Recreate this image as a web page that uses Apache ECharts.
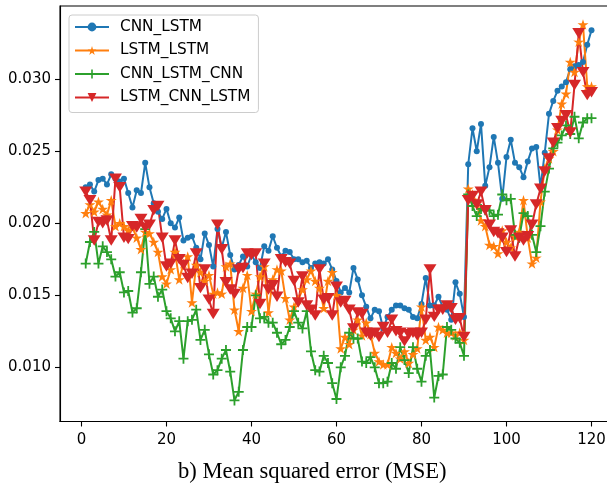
<!DOCTYPE html>
<html>
<head>
<meta charset="utf-8">
<script src="https://cdn.jsdelivr.net/npm/echarts@6/dist/echarts.min.js"></script>
<style>
  html, body { margin: 0; padding: 0; background: #ffffff; }
  #chart { width: 607px; height: 487px; }
</style>
</head>
<body>
<div id="chart"></div>
<script>
// Per-epoch MSE for each architecture (epochs 1..120)
const cnnLstm = [
  0.0225, 0.0227, 0.0222, 0.0230, 0.0231, 0.0227, 0.0234, 0.0231, 0.0229, 0.0231,
  0.0221, 0.0211, 0.0223, 0.0221, 0.0242, 0.0225, 0.0214, 0.0208, 0.0203, 0.0210,
  0.0200, 0.0197, 0.0204, 0.0188, 0.0190, 0.0191, 0.0183, 0.0175, 0.0193, 0.0185,
  0.0170, 0.0196, 0.0183, 0.0194, 0.0178, 0.0168, 0.0171, 0.0177, 0.0170, 0.0178,
  0.0173, 0.0169, 0.0184, 0.0181, 0.0191, 0.0183, 0.0177, 0.0181, 0.0180, 0.0175,
  0.0175, 0.0173, 0.0174, 0.0169, 0.0172, 0.0173, 0.0172, 0.0175, 0.0168, 0.0160,
  0.0152, 0.0155, 0.0152, 0.0169, 0.0161, 0.0150, 0.0142, 0.0134, 0.0140, 0.0139,
  0.0127, 0.0135, 0.0140, 0.0143, 0.0143, 0.0141, 0.0140, 0.0135, 0.0134, 0.0144,
  0.0162, 0.0143, 0.0143, 0.0149, 0.0142, 0.0140, 0.0133, 0.0159, 0.0151, 0.0135,
  0.0241, 0.0266, 0.0250, 0.0269, 0.0226, 0.0239, 0.0260, 0.0242, 0.0217, 0.0246,
  0.0258, 0.0242, 0.0239, 0.0232, 0.0243, 0.0252, 0.0253, 0.0225, 0.0249, 0.0276,
  0.0285, 0.0292, 0.0295, 0.0298, 0.0307, 0.0309, 0.0310, 0.0312, 0.0324, 0.0334
];
const lstmLstm = [
  0.0207, 0.0213, 0.0208, 0.0215, 0.0210, 0.0206, 0.0216, 0.0198, 0.0200, 0.0198,
  0.0195, 0.0197, 0.0190, 0.0182, 0.0194, 0.0193, 0.0187, 0.0180, 0.0163, 0.0158,
  0.0168, 0.0180, 0.0161, 0.0172, 0.0177, 0.0145, 0.0171, 0.0166, 0.0160, 0.0164,
  0.0151, 0.0152, 0.0151, 0.0170, 0.0172, 0.0140, 0.0125, 0.0155, 0.0164, 0.0139,
  0.0151, 0.0163, 0.0170, 0.0138, 0.0161, 0.0168, 0.0167, 0.0148, 0.0133, 0.0142,
  0.0147, 0.0154, 0.0161, 0.0167, 0.0160, 0.0155, 0.0141, 0.0160, 0.0166, 0.0150,
  0.0113, 0.0121, 0.0116, 0.0126, 0.0133, 0.0122, 0.0131, 0.0123, 0.0110, 0.0104,
  0.0102, 0.0102, 0.0114, 0.0110, 0.0106, 0.0111, 0.0103, 0.0109, 0.0113, 0.0142,
  0.0119, 0.0121, 0.0114, 0.0128, 0.0126, 0.0124, 0.0124, 0.0122, 0.0124, 0.0119,
  0.0224, 0.0220, 0.0214, 0.0202, 0.0198, 0.0185, 0.0184, 0.0179, 0.0195, 0.0187,
  0.0183, 0.0191, 0.0194, 0.0216, 0.0190, 0.0172, 0.0176, 0.0215, 0.0238, 0.0245,
  0.0250, 0.0265, 0.0283, 0.0290, 0.0312, 0.0305, 0.0326, 0.0338, 0.0295, 0.0295
];
const cnnLstmCnn = [
  0.0172, 0.0187, 0.0194, 0.0172, 0.0184, 0.0180, 0.0175, 0.0163, 0.0166, 0.0152,
  0.0153, 0.0138, 0.0141, 0.0166, 0.0196, 0.0158, 0.0163, 0.0149, 0.0154, 0.0139,
  0.0134, 0.0125, 0.0132, 0.0106, 0.0132, 0.0133, 0.0140, 0.0119, 0.0126, 0.0109,
  0.0095, 0.0098, 0.0106, 0.0112, 0.0097, 0.0077, 0.0083, 0.0112, 0.0128, 0.0128,
  0.0150, 0.0134, 0.0135, 0.0131, 0.0131, 0.0124, 0.0116, 0.0119, 0.0128, 0.0139,
  0.0131, 0.0127, 0.0139, 0.0111, 0.0098, 0.0097, 0.0108, 0.0103, 0.0089, 0.0078,
  0.0100, 0.0108, 0.0124, 0.0120, 0.0120, 0.0104, 0.0103, 0.0107, 0.0100, 0.0089,
  0.0089, 0.0090, 0.0103, 0.0099, 0.0114, 0.0105, 0.0096, 0.0114, 0.0099, 0.0090,
  0.0108, 0.0112, 0.0079, 0.0094, 0.0095, 0.0128, 0.0126, 0.0120, 0.0117, 0.0108,
  0.0220, 0.0212, 0.0205, 0.0210, 0.0209, 0.0209, 0.0205, 0.0206, 0.0220, 0.0216,
  0.0217, 0.0192, 0.0190, 0.0207, 0.0205, 0.0192, 0.0180, 0.0198, 0.0222, 0.0238,
  0.0252, 0.0256, 0.0261, 0.0268, 0.0262, 0.0274, 0.0259, 0.0270, 0.0273, 0.0273
];
const lstmCnnLstm = [
  0.0222, 0.0216, 0.0188, 0.0201, 0.0200, 0.0202, 0.0188, 0.0231, 0.0225, 0.0190,
  0.0189, 0.0198, 0.0197, 0.0203, 0.0197, 0.0199, 0.0209, 0.0212, 0.0190, 0.0170,
  0.0172, 0.0188, 0.0175, 0.0171, 0.0162, 0.0165, 0.0179, 0.0155, 0.0168, 0.0147,
  0.0137, 0.0199, 0.0182, 0.0159, 0.0154, 0.0151, 0.0168, 0.0169, 0.0179, 0.0178,
  0.0179, 0.0144, 0.0172, 0.0154, 0.0157, 0.0149, 0.0175, 0.0173, 0.0172, 0.0160,
  0.0145, 0.0163, 0.0143, 0.0140, 0.0136, 0.0168, 0.0147, 0.0148, 0.0136, 0.0156,
  0.0145, 0.0146, 0.0140, 0.0127, 0.0138, 0.0137, 0.0124, 0.0122, 0.0124, 0.0121,
  0.0128, 0.0124, 0.0133, 0.0125, 0.0124, 0.0118, 0.0123, 0.0124, 0.0122, 0.0124,
  0.0133, 0.0168, 0.0135, 0.0140, 0.0140, 0.0143, 0.0141, 0.0133, 0.0134, 0.0121,
  0.0216, 0.0219, 0.0213, 0.0222, 0.0209, 0.0199, 0.0194, 0.0193, 0.0190, 0.0180,
  0.0195, 0.0177, 0.0190, 0.0188, 0.0191, 0.0199, 0.0213, 0.0224, 0.0236, 0.0245,
  0.0256, 0.0266, 0.0271, 0.0275, 0.0263, 0.0296, 0.0332, 0.0305, 0.0289, 0.0291
];

const seriesNames = ['CNN_LSTM', 'LSTM_LSTM', 'CNN_LSTM_CNN', 'LSTM_CNN_LSTM'];
const xTicks = [0, 20, 40, 60, 80, 100, 120];
const yTicks = [0.010, 0.015, 0.020, 0.025, 0.030];
const xLabel = 'b) Mean squared error (MSE)';

const SANS = 'DejaVu Sans';
const STAR = 'path://M50 0 L61.17 34.63 L97.55 34.55 L68.07 55.87 L79.39 90.45 L50 69 L20.61 90.45 L31.93 55.87 L2.45 34.55 L38.83 34.63 Z';
const PLUS = 'path://M41 0 H59 V41 H100 V59 H59 V100 H41 V59 H0 V41 H41 Z';
const TRI_DOWN = 'path://M0 0 L100 0 L50 87 Z';

function pairs(vals) {
  return vals.map((v, i) => [i + 1, v]);
}

function lineSeries(name, vals, color, symbol, size) {
  return {
    type: 'line',
    name: name,
    data: pairs(vals),
    symbol: symbol,
    symbolSize: size,
    symbolKeepAspect: true,
    showSymbol: true,
    lineStyle: { color: color, width: 2 },
    itemStyle: { color: color, borderWidth: 0 },
    emphasis: { disabled: true },
    silent: true
  };
}

const chart = echarts.init(document.getElementById('chart'), null, { renderer: 'canvas' });
chart.setOption({
  animation: false,
  backgroundColor: '#ffffff',
  title: {
    text: xLabel,
    left: 178,
    top: 461,
    padding: 0,
    textStyle: { fontFamily: 'Liberation Serif', fontSize: 22.6, fontWeight: 'normal', color: '#000000' }
  },
  grid: {
    left: 60, top: 6, width: 557, height: 415.5,
    show: true, borderColor: '#000000', borderWidth: 1.1,
    backgroundColor: 'transparent',
    containLabel: false,
    outerBoundsMode: 'none'
  },
  xAxis: {
    type: 'value',
    min: -5.05, max: 126,
    axisLine: { show: true, onZero: false, lineStyle: { color: '#000000', width: 1.1 } },
    axisTick: { show: true, length: 5, inside: false, customValues: xTicks, lineStyle: { color: '#000000', width: 1.1 } },
    axisLabel: { customValues: xTicks, margin: 11, fontFamily: SANS, fontSize: 15, color: '#000000' },
    splitLine: { show: false }
  },
  yAxis: {
    type: 'value',
    min: 0.006236, max: 0.03509,
    axisLine: { show: true, onZero: false, lineStyle: { color: '#000000', width: 1.1 } },
    axisTick: { show: true, length: 5, inside: false, customValues: yTicks, lineStyle: { color: '#000000', width: 1.1 } },
    axisLabel: {
      customValues: yTicks, margin: 9, fontFamily: SANS, fontSize: 15, color: '#000000',
      formatter: v => Number(v).toFixed(3)
    },
    splitLine: { show: false }
  },
  legend: {
    orient: 'vertical',
    left: 69, top: 15,
    itemWidth: 34, itemHeight: 11, itemGap: 7.5,
    padding: [4, 8, 7, 5],
    backgroundColor: 'rgba(255,255,255,0.8)',
    borderColor: '#cccccc', borderWidth: 1, borderRadius: 3,
    textStyle: { fontFamily: SANS, fontSize: 15.3, color: '#000000', lineHeight: 16, padding: [0, 0, 0, 6] },
    data: seriesNames,
    selectedMode: false
  },
  series: [
    lineSeries(seriesNames[0], cnnLstm, '#1f77b4', 'circle', 6),
    lineSeries(seriesNames[1], lstmLstm, '#ff7f0e', STAR, 11),
    lineSeries(seriesNames[2], cnnLstmCnn, '#2ca02c', PLUS, 10),
    lineSeries(seriesNames[3], lstmCnnLstm, '#d62728', TRI_DOWN, [13, 12])
  ]
});
</script>
</body>
</html>
